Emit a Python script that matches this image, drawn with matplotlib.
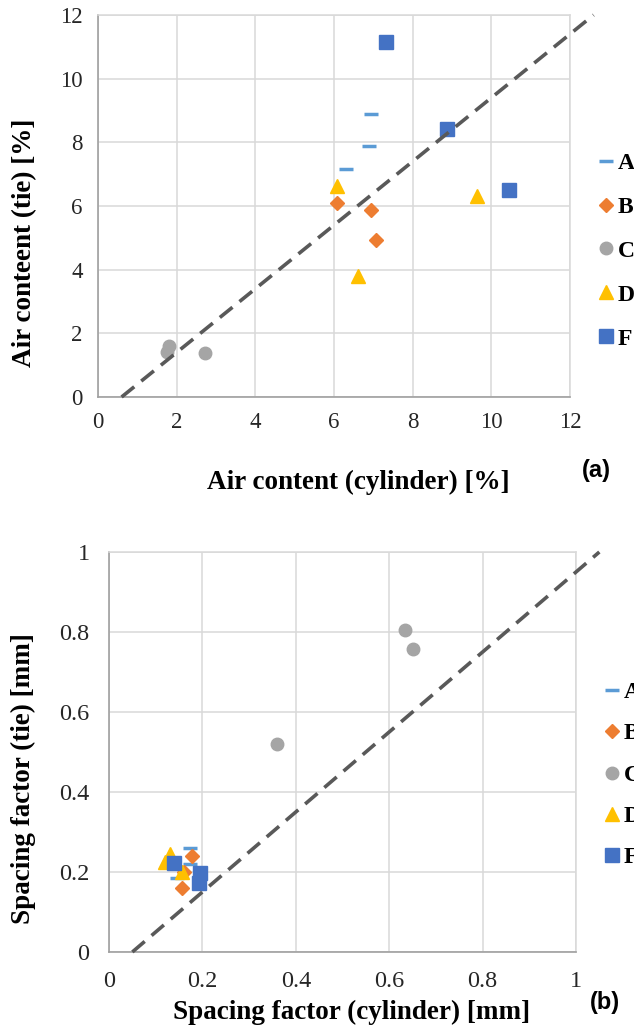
import matplotlib
matplotlib.use('Agg')
import matplotlib.pyplot as plt
import numpy as np

# air content, cylinder vs tie [%]
air_cyl = {
    'A': [6.31, 6.90, 6.95],
    'B': [6.08, 6.95, 7.06],
    'C': [1.81, 1.76, 2.72],
    'D': [6.08, 9.63, 6.60],
    'F': [7.32, 8.87, 10.46],
}
air_tie = {
    'A': [7.15, 7.89, 8.90],
    'B': [6.10, 5.87, 4.92],
    'C': [1.61, 1.40, 1.37],
    'D': [6.64, 6.32, 3.80],
    'F': [11.14, 8.42, 6.51],
}

# spacing factor, cylinder vs tie [mm]
sf_cyl = {
    'A': [0.173, 0.173, 0.145],
    'B': [0.177, 0.160, 0.156],
    'C': [0.634, 0.651, 0.360],
    'D': [0.120, 0.130, 0.156],
    'F': [0.139, 0.195, 0.193],
}
sf_tie = {
    'A': [0.260, 0.220, 0.185],
    'B': [0.240, 0.200, 0.160],
    'C': [0.805, 0.757, 0.520],
    'D': [0.225, 0.245, 0.200],
    'F': [0.222, 0.197, 0.172],
}

air_ticks = [0, 2, 4, 6, 8, 10, 12]
sf_ticks = [0, 0.2, 0.4, 0.6, 0.8, 1]
air_fit = [0.6, 12.6]
sf_fit = [0.05, 1.05]

groups = ['A', 'B', 'C', 'D', 'F']
styles = {
    'A': dict(marker='_', color='#5b9bd5', ms=10, mew=2.5),
    'B': dict(marker='D', color='#ed7d31', ms=7),
    'C': dict(marker='o', color='#a5a5a5', ms=9),
    'D': dict(marker='^', color='#ffc000', ms=10),
    'F': dict(marker='s', color='#4472c4', ms=9.5),
}

serif = 'Liberation Serif'

fig = plt.figure(figsize=(6.34, 10.30), dpi=100)
W, H = 634, 1030


def make_axes(l, r, t, b):
    return fig.add_axes([l / W, 1 - b / H, (r - l) / W, (b - t) / H])


def style_axes(ax, ticks, size, xpad, ypad):
    ax.set_xticks(ticks)
    ax.set_yticks(ticks)
    ax.set_xticklabels([f'{t:g}' for t in ticks], family=serif, fontsize=size)
    ax.set_yticklabels([f'{t:g}' for t in ticks], family=serif, fontsize=size)
    ax.tick_params(axis='x', length=0, pad=xpad, colors='#262626')
    ax.tick_params(axis='y', length=0, pad=ypad, colors='#262626')
    ax.grid(True, color='#d9d9d9', lw=1.1)
    ax.set_axisbelow(True)
    for s in ['left', 'bottom']:
        ax.spines[s].set_color('#a0a0a0')
        ax.spines[s].set_linewidth(1.2)
    for s in ['top', 'right']:
        ax.spines[s].set_color('#d9d9d9')
        ax.spines[s].set_linewidth(1.1)


def draw(ax, xs, ys, fit):
    for g in groups:
        ax.plot(xs[g], ys[g], ls='none', label=g, clip_on=False, zorder=3, **styles[g])
    ax.plot(fit, [fit[0] - fit[0], fit[1] - fit[0]], color='#595959', lw=2.6,
            dashes=(4.5, 2.5), clip_on=False, zorder=4)


def add_legend(ax, x, y, spacing):
    ax.legend(loc='center left', bbox_to_anchor=(x / W, 1 - y / H),
              bbox_transform=fig.transFigure, frameon=False, handlelength=0.5,
              handletextpad=0.25, labelspacing=spacing, borderpad=0,
              prop=dict(family=serif, weight='bold', size=17))


# (a) air content
ax1 = make_axes(98, 570, 15, 397)
draw(ax1, air_cyl, air_tie, air_fit)
ax1.set_xlim(0, 12)
ax1.set_ylim(0, 12)
style_axes(ax1, air_ticks, 16.5, 11, 11)
ax1.set_xlabel('Air content (cylinder) [%]', family=serif, fontsize=19.5,
               fontweight='bold', va='center')
ax1.xaxis.set_label_coords((358 - 98) / 472, (397 - 482) / 382)
ax1.set_ylabel('Air conteent (tie) [%]', family=serif, fontsize=19.5,
               fontweight='bold', va='center')
ax1.yaxis.set_label_coords((25 - 98) / 472, (397 - 243) / 382)
add_legend(ax1, 588, 251, 0.95)

# (b) spacing factor
ax2 = make_axes(109, 576, 552, 952)
draw(ax2, sf_cyl, sf_tie, sf_fit)
ax2.set_xlim(0, 1)
ax2.set_ylim(0, 1)
style_axes(ax2, sf_ticks, 17.5, 14, 14)
ax2.set_xlabel('Spacing factor (cylinder) [mm]', family=serif, fontsize=19.5,
               fontweight='bold', va='center')
ax2.xaxis.set_label_coords((352 - 109) / 467, (952 - 1012) / 400)
ax2.set_ylabel('Spacing factor (tie) [mm]', family=serif, fontsize=19.5,
               fontweight='bold', va='center')
ax2.yaxis.set_label_coords((23 - 109) / 467, (952 - 779) / 400)
add_legend(ax2, 594, 775, 0.84)

fig.text(596 / W, 1 - 470 / H, '(a)', family='Liberation Sans', fontweight='bold',
         fontsize=17, ha='center', va='center')
fig.text(605 / W, 1 - 1003 / H, '(b)', family='Liberation Sans', fontweight='bold',
         fontsize=17, ha='center', va='center')

fig.savefig('out.png', dpi=100)
